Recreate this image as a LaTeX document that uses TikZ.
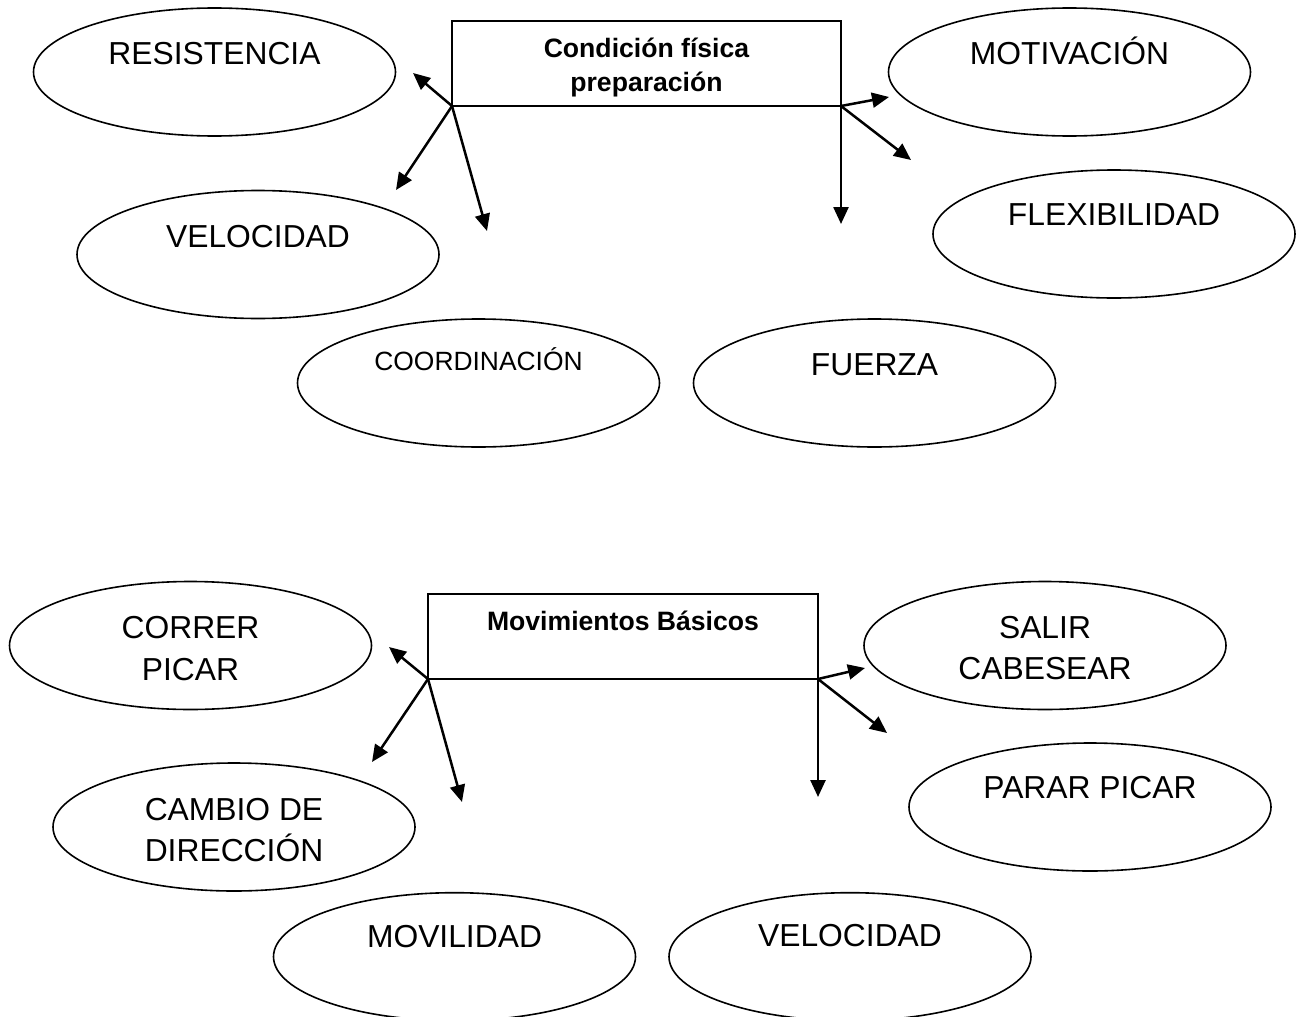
\documentclass[tikz,border=0pt]{standalone}
\usepackage{fontspec}
\setmainfont{Liberation Sans}
\usetikzlibrary{shapes.geometric,arrows.meta}
\begin{document}
\begin{tikzpicture}[x=0.5pt,y=-0.5pt,
  oval/.style={draw,ellipse,line width=0.8pt,minimum width=181pt,minimum height=64pt,inner sep=0pt,outer sep=0pt},
  lbl/.style={anchor=base,inner sep=0pt,font=\fontsize{15.9pt}{19pt}\selectfont},
  slbl/.style={anchor=base,inner sep=0pt,font=\fontsize{13.2pt}{16pt}\selectfont},
  hdr/.style={anchor=base,inner sep=0pt,font=\fontsize{13.3pt}{16pt}\selectfont\bfseries},
  hbox/.style={draw,rectangle,line width=0.8pt,inner sep=0pt,outer sep=0pt,minimum width=194.5pt,minimum height=42.5pt},
  arr/.style={line width=1.25pt,-{Triangle[length=8.5pt,width=7.5pt]}}]
\useasboundingbox (0,0) rectangle (1307,1017);
\clip (0,0) rectangle (1307,1017);

% ---------- upper diagram ----------
\node[hbox] (box1) at (646.5,63.5) {};
\draw[line width=1.1pt] (box1.south west) -- (box1.south east);
\node[hdr] (box1a) at (646.5,57.3) {Condición física};
\node[hdr] (box1b) at (646.5,91) {preparación};

\node[oval] (res) at (214.5,72) {};
\node[lbl] (rest) at (214.5,64) {RESISTENCIA};
\node[oval] (vel1) at (258,254.5) {};
\node[lbl] (vel1t) at (258,247.3) {VELOCIDAD};
\node[oval] (mot) at (1069.5,72) {};
\node[lbl] (mott) at (1069.5,64) {MOTIVACIÓN};
\node[oval] (flex) at (1114,234) {};
\node[lbl] (flext) at (1114,225.7) {FLEXIBILIDAD};
\node[oval] (coord) at (478.5,383) {};
\node[slbl] (coordt) at (478.5,370) {COORDINACIÓN};
\node[oval] (fue) at (874.5,383) {};
\node[lbl] (fuet) at (874.5,375) {FUERZA};

\coordinate (t1) at (413,73);
\coordinate (t2) at (396,190);
\coordinate (t3) at (487,231);
\coordinate (t4) at (889,97);
\coordinate (t5) at (911,160);
\coordinate (t6) at (841,224);
\draw[arr] (box1.south west) -- (t1);
\draw[arr] (box1.south west) -- (t2);
\draw[arr] (box1.south west) -- (t3);
\draw[arr] (box1.south east) -- (t4);
\draw[arr] (box1.south east) -- (t5);
\draw[arr] (box1.south east) -- (t6);

% ---------- lower diagram ----------
\node[hbox,minimum width=195pt] (box2) at (623,636.5) {};
\draw[line width=1.1pt] (box2.south west) -- (box2.south east);
\node[hdr] (box2a) at (623,630) {Movimientos Básicos};

\node[oval] (corr) at (190.5,645.5) {};
\node[lbl] (corrt1) at (190.5,638.3) {CORRER};
\node[lbl] (corrt2) at (190.5,680) {PICAR};
\node[oval] (camb) at (234,827) {};
\node[lbl] (cambt1) at (234,820) {CAMBIO DE};
\node[lbl] (cambt2) at (234,861.7) {DIRECCIÓN};
\node[oval] (sal) at (1045,645.5) {};
\node[lbl] (salt1) at (1045,638) {SALIR};
\node[lbl] (salt2) at (1045,679) {CABESEAR};
\node[oval] (par) at (1090,807) {};
\node[lbl] (part) at (1090,798) {PARAR PICAR};
\node[oval] (mov) at (454.5,956.7) {};
\node[lbl] (movt) at (454.5,947.3) {MOVILIDAD};
\node[oval] (vel2) at (850,956.7) {};
\node[lbl] (vel2t) at (850,946.7) {VELOCIDAD};

\coordinate (u1) at (389,647);
\coordinate (u2) at (372,762);
\coordinate (u3) at (462,802);
\coordinate (u4) at (865,668);
\coordinate (u5) at (887,733);
\coordinate (u6) at (818,797);
\draw[arr] (box2.south west) -- (u1);
\draw[arr] (box2.south west) -- (u2);
\draw[arr] (box2.south west) -- (u3);
\draw[arr] (box2.south east) -- (u4);
\draw[arr] (box2.south east) -- (u5);
\draw[arr] (box2.south east) -- (u6);
\end{tikzpicture}
\end{document}
